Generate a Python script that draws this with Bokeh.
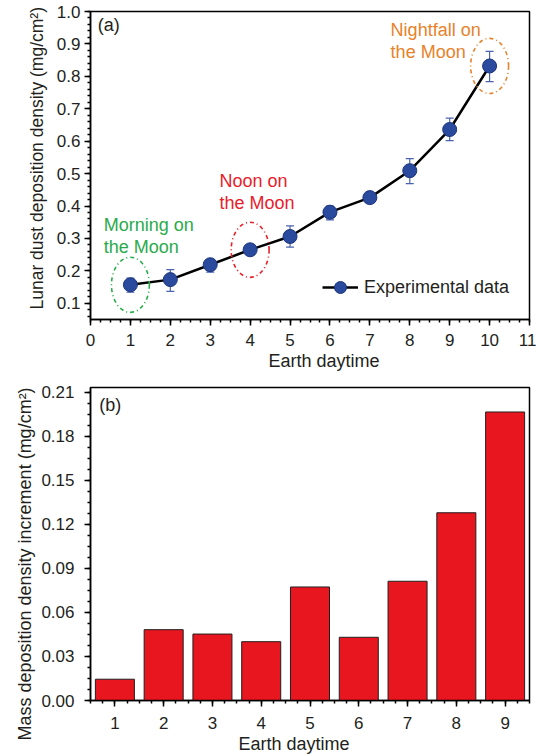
from bokeh.plotting import figure
from bokeh.models import (ColumnDataSource, Whisker, TeeHead, SingleIntervalTicker,
                          PrintfTickFormatter, Legend, LegendItem, Title, Range1d)
from bokeh.layouts import column
from bokeh.core.properties import value
from bokeh.embed import file_html
from bokeh.resources import INLINE

# ---------------- data ----------------
days_a = [1, 2, 3, 4, 5, 6, 7, 8, 9, 10]
density = [0.157, 0.173, 0.219, 0.265, 0.306, 0.381, 0.426, 0.509, 0.636, 0.832]
err_upper = [0.178, 0.204, 0.228, 0.276, 0.339, 0.400, 0.441, 0.546, 0.671, 0.877]
err_lower = [0.134, 0.137, 0.196, 0.255, 0.273, 0.357, 0.411, 0.469, 0.602, 0.784]

days_b = [1, 2, 3, 4, 5, 6, 7, 8, 9]
increment = [0.0145, 0.0483, 0.0453, 0.0401, 0.0774, 0.0431, 0.0813, 0.128, 0.1967]

notes = ["Morning on\nthe Moon", "Noon on\nthe Moon", "Nightfall on\nthe Moon"]
note_x = [0.33, 3.23, 7.52]
note_y = [0.372, 0.508, 0.975]
note_colors = ["#2aab4b", "#e8202a", "#e8822a"]
circled_days = [1, 4, 10]

FONT = "Liberation Sans"
TXT = "#231f20"


def style_axes(p, y_fmt, y_standoff, x_standoff):
    p.xgrid.visible = False
    p.ygrid.visible = False
    p.outline_line_color = "black"
    p.outline_line_width = 1.5
    p.outline_line_alpha = 1
    for ax in (p.xaxis[0], p.yaxis[0]):
        ax.axis_line_width = 1.5
        ax.axis_line_color = "black"
        ax.major_tick_out = 6
        ax.major_tick_in = 0
        ax.minor_tick_out = 3
        ax.minor_tick_in = 0
        ax.major_tick_line_width = 1.5
        ax.minor_tick_line_width = 1.5
        ax.major_tick_line_color = "black"
        ax.minor_tick_line_color = "black"
        ax.major_label_text_font = FONT
        ax.major_label_text_font_size = "17px"
        ax.major_label_text_color = TXT
    p.yaxis[0].formatter = PrintfTickFormatter(format=y_fmt)
    p.yaxis[0].major_label_standoff = y_standoff
    p.xaxis[0].major_label_standoff = x_standoff


def axis_title(p, text, side, offset, standoff, size="18px"):
    t = Title(text=text, align="left", offset=offset, text_font=FONT,
              text_font_size=size, text_font_style="normal", text_color=TXT,
              standoff=standoff)
    p.add_layout(t, side)


# ---------------- panel (a) ----------------
p1 = figure(width=536, height=375, x_range=Range1d(0, 11), y_range=Range1d(0.05, 1.0),
            output_backend="svg", toolbar_location=None,
            min_border_left=90, min_border_right=7, min_border_top=11, min_border_bottom=56)
p1.xaxis.ticker = SingleIntervalTicker(interval=1, num_minor_ticks=4)
p1.yaxis.ticker = SingleIntervalTicker(interval=0.1, num_minor_ticks=5)
style_axes(p1, "%.1f", 4, 8)

src_a = ColumnDataSource(dict(x=days_a, y=density, upper=err_upper, lower=err_lower))
whisk = Whisker(source=src_a, base="x", upper="upper", lower="lower",
                line_color="#4a63b0", line_width=1.2, level="underlay",
                upper_head=TeeHead(size=8, line_color="#4a63b0", line_width=1.2),
                lower_head=TeeHead(size=8, line_color="#4a63b0", line_width=1.2))
p1.add_layout(whisk)

line_r = p1.line("x", "y", source=src_a, line_color="black", line_width=2.5)
dots_r = p1.scatter("x", "y", source=src_a, size=14, fill_color="#2a4a9e",
                    line_color="#1b347c", line_width=1)

ell = ColumnDataSource(dict(
    x=circled_days,
    y=[density[d - 1] for d in circled_days],
    c=note_colors))
p1.ellipse("x", "y", width=0.95, height=0.17, source=ell, fill_alpha=0,
           line_color="c", line_width=1.6, line_dash="4 3 1 3")

p1.text(x=note_x, y=note_y, text=notes, text_color=note_colors,
        text_font=value(FONT), text_font_size="18px", text_baseline="top",
        text_align="left", text_line_height=1.1)
p1.text(x=[0.18], y=[0.99], text=["(a)"], text_color=TXT, text_font=value(FONT),
        text_font_size="18px", text_baseline="top", text_align="left")

legend = Legend(items=[LegendItem(label="Experimental data", renderers=[line_r, dots_r])],
                location=(232, 17), border_line_alpha=0, background_fill_alpha=0,
                glyph_width=36, glyph_height=30, label_height=30, label_standoff=6,
                label_text_font=FONT, label_text_font_size="18px", label_text_color=TXT,
                padding=0, margin=0, spacing=0)
p1.add_layout(legend)

axis_title(p1, "Lunar dust deposition density (mg/cm²)", "left", 10, 13, "17.5px")
axis_title(p1, "Earth daytime", "below", 178, 1)

# ---------------- panel (b) ----------------
p2 = figure(width=536, height=381, x_range=Range1d(0.5, 9.5), y_range=Range1d(0, 0.2134),
            output_backend="svg", toolbar_location=None,
            min_border_left=88, min_border_right=1, min_border_top=12, min_border_bottom=56)
p2.xaxis.ticker = SingleIntervalTicker(interval=1, num_minor_ticks=4)
p2.yaxis.ticker = SingleIntervalTicker(interval=0.03, num_minor_ticks=4)
style_axes(p2, "%.2f", 10, 10)

p2.vbar(x=days_b, top=increment, width=0.8, fill_color="#e8161e",
        line_color="#231f20", line_width=1)
p2.text(x=[0.68], y=[0.2085], text=["(b)"], text_color=TXT, text_font=value(FONT),
        text_font_size="18px", text_baseline="top", text_align="left")

axis_title(p2, "Mass deposition density increment (mg/cm²)", "left", -40, 7)
axis_title(p2, "Earth daytime", "below", 148, 0)

layout = column(p1, p2, spacing=0)
open("out.html", "w").write(file_html(layout, INLINE))
